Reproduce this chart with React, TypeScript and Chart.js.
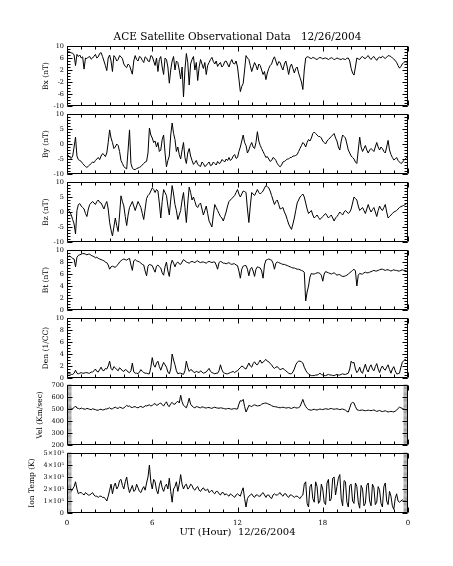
import React, { useEffect, useRef } from 'react';
import { Chart, registerables } from 'chart.js';

Chart.register(...registerables);

// ---------- data (sampled every 0.1 h, 0 .. 24 UT; one row = one hour) ----------
const HOURS_STEP = 0.1;
const X_MIN = 0;
const X_MAX = 24;
const X_MAJOR = 6;

const bx = [
  8.5, 8.2, 8.0, 7.7, 7.6, 7.0, 3.5, 7.2, 6.5, 7.0,
  6.0, 6.4, 2.3, 6.0, 5.8, 6.3, 6.5, 5.6, 6.0, 6.6,
  7.2, 6.0, 6.4, 7.5, 7.8, 6.5, 5.0, 3.5, 1.8, 6.0,
  7.0, 5.0, 1.5, 6.8, 6.2, 5.0, 5.5, 6.8, 6.4, 5.8,
  4.0, 3.2, 2.8, 4.0, 3.5, 2.0, 0.6, 5.0, 6.8, 5.5,
  5.0, 6.5, 6.2, 5.2, 4.5, 6.4, 6.0, 5.0, 4.8, 6.8,
  6.5, 5.0, 3.5, 6.0, 1.5, 5.5, 6.5, 3.0, 0.5, 6.0,
  5.5, 3.0, -2.4, 2.0, 5.0, 6.5, 2.0, 5.0, 4.5, 2.0,
  -1.0, 3.0, -7.0, 2.0, 7.5, 4.5, -3.0, 4.0, 5.5, 6.5,
  2.0, 4.5, -1.5, 3.0, 5.5, 4.0, 2.5, 4.5, 0.5, 3.5,
  4.5, 5.5, 6.2, 4.8, 4.0, 5.0, 3.2, 4.0, 4.5, 3.0,
  3.5, 4.8, 5.0, 4.0, 3.0, 4.5, 5.5, 4.2, 4.0, 5.0,
  3.0, -1.0, -5.2, -3.5, -2.5, 2.0, 6.8, 6.0, 5.5, 3.5,
  1.5, 3.0, 4.5, 3.5, 2.0, 4.0, 3.5, 2.0, 0.5, 1.5,
  -1.2, 1.0, 2.5, 3.5, 4.0, 5.5, 6.4, 5.0, 3.5, 4.8,
  4.5, 3.0, 2.0, 4.0, 5.0, 3.0, 0.5, 3.0, 4.0, 2.5,
  1.0, 2.5, 3.0, 1.0, -0.5, -2.0, -4.5, 2.0, 6.0, 6.4,
  6.3, 6.0, 5.8, 6.2, 6.0, 5.7, 5.5, 5.9, 6.2, 6.0,
  5.7, 5.9, 6.0, 5.8, 5.5, 5.8, 6.1, 5.9, 5.4, 5.7,
  6.0, 5.8, 5.6, 5.5, 5.8, 5.6, 5.5, 5.9, 6.0, 5.0,
  2.5, 1.0, 0.3, 3.0, 6.0, 5.7, 5.5, 6.2, 6.5, 6.0,
  5.8, 6.4, 6.8, 6.0, 5.5, 6.2, 6.5, 5.8, 5.2, 6.0,
  6.3, 6.0, 6.6, 6.2, 5.8, 6.3, 6.8, 6.7, 6.5, 6.0,
  5.6, 5.2, 4.5, 3.5, 2.6, 3.2, 4.0, 4.5, 4.8, 4.4,
  4.2];

const by = [
  -4.2, -3.8, -4.5, -4.8, -4.0, -1.0, 2.3, -4.0, -5.2, -5.5,
  -5.8, -6.5, -7.0, -7.5, -7.8, -7.4, -7.0, -6.5, -6.0, -6.2,
  -5.5, -5.0, -4.5, -5.2, -4.0, -3.2, -3.5, -4.2, -3.0, 0.5,
  4.7, 2.0, 0.5, -1.5, -1.0, 0.0, -0.5, -2.5, -5.5, -6.5,
  -7.5, -8.0, -8.3, -2.0, 4.7, -6.5, -8.0, -8.5, -8.5, -8.2,
  -8.0, -7.8, -7.5, -7.0, -6.5, -6.0, -5.8, -3.0, 5.3, 3.0,
  2.0, 0.5, 1.0, -1.0, 0.5, -2.5, -2.0, 1.5, 3.0, -3.0,
  -7.6, -5.5, -4.0, 3.0, 7.0, 3.5, 1.5, -2.5, -1.0, -3.5,
  -5.0, -2.0, 0.5, -4.5, -6.5, -3.0, -1.5, -4.0, -5.5, -6.8,
  -6.2, -5.5, -6.8, -7.2, -7.5, -6.0, -6.5, -7.5, -7.2, -6.5,
  -6.0, -7.2, -7.0, -6.0, -6.5, -7.0, -5.8, -6.5, -6.3, -5.2,
  -5.5, -6.0, -5.0, -5.5, -4.5, -5.5, -5.0, -4.0, -3.5, -4.8,
  -4.5, -2.5, -1.0, 1.0, 3.0, 0.5, -0.5, -3.0, -2.0, -0.5,
  0.5, -1.0, -1.5, 0.5, 4.1, 1.0, -0.5, -1.5, -2.5, -3.5,
  -4.5, -4.2, -5.0, -5.8, -5.5, -4.5, -4.8, -5.5, -6.5, -7.2,
  -7.6, -7.0, -6.0, -5.8, -5.5, -5.0, -5.0, -4.5, -4.5, -4.0,
  -4.0, -3.8, -3.5, -2.5, -1.5, -0.5, 0.5, 0.0, -1.0, 0.5,
  1.5, 1.0, 2.0, 3.5, 4.0, 3.5, 3.0, 2.5, 2.5, 2.0,
  1.0, 0.5, 0.0, 1.0, 1.5, 2.0, 2.5, 3.0, 3.5, 2.0,
  1.0, -1.0, -2.0, 1.0, 3.0, 2.5, 2.0, 0.0, -2.0, -3.0,
  -4.0, -4.5, -5.0, -6.0, -6.5, -2.0, 2.3, -1.0, -2.5, -1.5,
  -0.5, -2.0, -3.0, -2.0, -1.5, -2.0, -2.5, -1.0, 0.5, -1.0,
  -2.0, -1.0, -1.5, -2.5, -3.0, -1.0, 1.2, -2.0, -3.5, -4.5,
  -5.3, -5.0, -4.5, -5.5, -6.0, -6.5, -6.2, -5.5, -5.0, -4.5,
  -4.0];

const bz = [
  0.8, 0.5, 0.0, -1.0, -2.5, -4.0, -7.3, 0.5, 2.5, 2.8,
  2.0, 1.5, 1.0, -0.5, -1.5, 1.0, 2.5, 3.0, 3.5, 3.0,
  2.5, 3.5, 4.0, 3.2, 3.0, 2.0, 1.0, 2.5, 3.5, 1.0,
  -3.5, -6.0, -8.0, -5.0, -2.0, -4.5, -6.5, -1.0, 5.4, 3.5,
  2.0, -1.5, -4.5, -1.0, 1.5, 2.5, 3.5, 2.0, 0.5, 2.0,
  3.5, 2.5, 1.5, -0.5, -2.5, 1.0, 4.5, 5.5, 6.0, 7.0,
  8.0, 7.5, 6.5, 7.5, 7.0, 3.0, -2.0, 3.5, 7.5, 6.5,
  5.5, 2.0, -1.0, 4.0, 8.8, 6.0, 2.5, 0.5, -2.5, -1.0,
  0.5, 4.0, 6.5, 1.5, -3.5, 3.0, 8.3, 6.5, 4.0, 5.0,
  3.5, 2.0, 1.5, 2.5, 3.0, 1.0, -1.0, 0.5, 2.0, -0.5,
  -3.0, -4.0, -5.0, -1.0, 2.5, 1.5, 0.5, -0.5, -1.5, -2.0,
  -3.0, -1.5, 0.0, 2.0, 3.5, 4.0, 4.5, 5.0, 5.5, 6.5,
  7.5, 6.0, 5.0, 6.0, 7.0, 6.8, 6.5, 1.0, -3.5, 2.0,
  6.5, 6.0, 5.5, 6.5, 7.5, 6.5, 6.0, 6.5, 7.0, 8.0,
  8.8, 8.5, 8.0, 7.0, 5.5, 4.0, 2.5, 3.5, 4.0, 2.5,
  1.0, 1.2, 1.5, 0.0, -1.0, -2.5, -4.0, -5.0, -5.8, -4.0,
  -2.0, 0.5, 3.0, 4.0, 5.0, 5.5, 6.0, 5.0, 3.0, 1.0,
  -0.5, 0.0, 0.5, -1.0, -2.0, -1.5, -1.0, -1.8, -2.5, -2.0,
  -1.5, -1.0, -0.5, -1.2, -2.0, -1.5, -1.0, -2.0, -3.0, -2.0,
  -1.5, -0.8, 0.0, -0.5, -1.0, 0.0, 0.5, 0.0, -0.5, 0.0,
  1.0, 3.0, 5.0, 4.5, 4.0, 2.0, 0.5, 1.0, 1.5, 0.5,
  -0.5, 1.0, 2.5, 1.0, 0.0, 0.8, 1.5, 0.0, -1.5, 0.5,
  2.0, 1.0, 0.5, 1.5, 2.5, 0.0, -2.0, -1.5, -1.0, -0.5,
  0.0, 0.2, 0.5, 1.0, 1.5, 1.8, 2.0, 2.2, 2.5, 2.8,
  3.0];

const bt = [
  8.8, 8.9, 9.0, 8.8, 8.6, 8.5, 7.2, 8.8, 9.1, 9.2,
  9.3, 9.4, 9.4, 9.3, 9.2, 9.3, 9.3, 9.1, 9.0, 8.9,
  8.7, 8.8, 8.6, 8.5, 8.4, 8.3, 8.2, 8.0, 7.9, 7.5,
  6.8, 7.2, 7.3, 7.2, 7.1, 7.4, 7.6, 8.0, 8.2, 8.4,
  8.5, 8.4, 8.3, 8.5, 8.6, 7.5, 6.6, 8.2, 8.4, 8.2,
  8.1, 8.0, 7.8, 7.6, 7.5, 6.5, 5.7, 7.3, 7.6, 7.5,
  7.4, 6.8, 6.3, 7.3, 7.5, 7.2, 7.0, 6.2, 5.8, 7.2,
  8.0, 6.5, 5.6, 7.5, 8.3, 7.8, 7.2, 7.8, 8.0, 7.7,
  7.6, 8.0, 8.4, 8.2, 8.0, 7.9, 7.8, 8.0, 8.1, 8.0,
  7.9, 8.1, 8.2, 8.0, 7.9, 8.0, 8.0, 7.9, 7.8, 8.0,
  8.1, 8.0, 7.9, 8.0, 8.0, 7.5, 6.8, 7.9, 8.1, 8.0,
  7.8, 7.8, 7.7, 7.8, 7.9, 7.7, 7.6, 7.7, 7.7, 7.5,
  7.4, 6.5, 5.3, 6.8, 7.3, 7.4, 7.4, 6.8, 5.7, 6.8,
  7.1, 6.5, 5.6, 6.8, 7.2, 7.1, 7.0, 6.5, 5.3, 7.5,
  8.3, 8.4, 8.5, 8.4, 8.3, 7.8, 6.8, 7.8, 8.0, 7.9,
  7.8, 7.7, 7.6, 7.6, 7.5, 7.4, 7.3, 7.2, 7.1, 7.0,
  7.0, 6.9, 6.8, 6.8, 6.7, 6.6, 6.5, 6.3, 1.5, 3.0,
  4.0, 5.5, 6.1, 6.0, 6.0, 6.1, 6.2, 6.2, 6.1, 5.8,
  4.8, 6.0, 6.4, 6.3, 6.2, 6.1, 6.0, 6.1, 6.2, 6.0,
  5.8, 5.9, 5.9, 5.7, 5.6, 5.6, 5.7, 5.8, 6.0, 6.2,
  6.4, 6.6, 6.8, 6.5, 4.0, 5.8, 6.1, 6.0, 6.0, 6.2,
  6.3, 6.2, 6.2, 6.3, 6.4, 6.5, 6.6, 6.5, 6.5, 6.6,
  6.7, 6.8, 6.8, 6.7, 6.6, 6.7, 6.7, 6.6, 6.5, 6.6,
  6.7, 6.6, 6.6, 6.5, 6.5, 6.6, 6.7, 6.6, 6.6, 6.5,
  6.5];

const den = [
  0.6, 0.7, 0.7, 0.6, 0.6, 0.8, 1.3, 0.8, 0.7, 0.8,
  0.9, 0.8, 0.8, 0.9, 0.9, 0.8, 0.8, 1.0, 1.0, 1.2,
  1.5, 1.1, 1.0, 1.4, 1.8, 1.3, 1.2, 1.6, 1.5, 2.0,
  2.8, 1.6, 1.3, 1.9, 1.7, 1.4, 1.2, 1.7, 1.5, 1.2,
  1.1, 1.4, 1.3, 1.0, 0.9, 1.2, 2.5, 1.0, 0.8, 0.8,
  0.7, 1.0, 1.4, 1.1, 0.9, 0.8, 0.8, 0.7, 0.7, 1.8,
  3.4, 2.2, 1.8, 2.5, 2.8, 1.9, 1.3, 2.0, 2.6, 2.2,
  1.8, 1.0, 0.7, 1.5, 4.0, 3.0, 2.2, 1.2, 0.7, 0.8,
  0.8, 0.7, 0.6, 1.2, 2.8, 1.8, 1.1, 1.4, 1.3, 1.0,
  0.9, 1.1, 1.0, 0.9, 1.2, 1.0, 0.8, 0.9, 1.0, 1.3,
  1.6, 1.1, 0.9, 0.8, 0.7, 0.8, 0.8, 1.2, 2.2, 1.4,
  0.9, 0.8, 0.7, 0.7, 0.8, 0.9, 1.0, 1.1, 0.9, 1.1,
  1.2, 1.5, 1.7, 2.0, 1.9, 1.6, 1.5, 2.0, 2.5, 2.0,
  1.8, 2.4, 2.7, 2.3, 2.2, 2.6, 3.0, 2.5, 2.6, 2.9,
  3.1, 2.8, 2.7, 2.4, 2.2, 1.8, 1.6, 1.8, 1.9, 1.6,
  1.4, 1.5, 1.6, 1.4, 1.2, 1.0, 0.8, 0.7, 0.7, 1.0,
  1.5, 2.2, 2.6, 2.8, 2.8, 2.7, 2.5, 1.8, 1.3, 0.9,
  0.7, 0.5, 0.4, 0.4, 0.4, 0.5, 0.5, 0.6, 0.8, 0.6,
  0.5, 0.4, 0.4, 0.5, 0.6, 0.5, 0.5, 0.4, 0.4, 0.5,
  0.6, 0.5, 0.5, 0.6, 0.7, 0.6, 0.6, 0.7, 0.8, 1.5,
  2.8, 2.5, 2.6, 1.5, 0.9, 1.2, 1.8, 1.0, 0.8, 1.6,
  2.3, 1.4, 1.0, 1.8, 2.2, 1.5, 1.2, 1.9, 2.4, 1.5,
  0.9, 1.6, 2.0, 1.5, 1.3, 1.8, 2.2, 1.4, 0.8, 1.5,
  1.9, 1.2, 0.7, 0.7, 0.8, 1.8, 2.6, 2.9, 3.1, 2.9,
  2.8];

const vel = [
  505, 500, 510, 506, 503, 512, 525, 508, 505, 500,
  508, 503, 500, 498, 505, 502, 498, 494, 502, 498,
  495, 490, 490, 496, 498, 492, 494, 500, 500, 505,
  510, 500, 502, 510, 515, 508, 505, 515, 512, 505,
  508, 520, 530, 522, 525, 515, 512, 518, 520, 512,
  510, 518, 522, 514, 515, 528, 525, 530, 535, 525,
  530, 540, 545, 530, 535, 545, 550, 535, 525, 545,
  560, 530, 520, 545, 555, 540, 540, 555, 565, 550,
  615, 560, 530, 520, 510, 545, 590, 540, 525, 515,
  510, 520, 518, 512, 510, 518, 515, 510, 508, 512,
  512, 508, 505, 512, 515, 510, 508, 506, 510, 508,
  505, 502, 500, 504, 505, 500, 498, 502, 503, 500,
  500, 540, 570, 565, 580, 520, 475, 500, 530, 525,
  520, 530, 535, 530, 525, 528, 530, 540, 545, 548,
  550, 545, 540, 535, 528, 522, 520, 518, 515, 512,
  510, 513, 515, 512, 508, 510, 512, 508, 505, 510,
  515, 510, 508, 512, 520, 550, 580, 545, 520, 505,
  495, 492, 490, 495, 498, 494, 492, 496, 500, 497,
  495, 499, 502, 500, 497, 502, 505, 500, 498, 500,
  502, 498, 495, 498, 500, 495, 490, 480, 475, 510,
  545, 555, 550, 520, 495, 490, 488, 490, 492, 488,
  485, 488, 490, 488, 486, 489, 492, 486, 480, 484,
  488, 482, 478, 482, 485, 480, 475, 478, 480, 478,
  476, 482, 490, 505, 515, 510, 505, 500, 495, 490,
  485];

const ionTemp = [
  1.9e5, 2.1e5, 2.3e5, 1.8e5, 2.0e5, 2.2e5, 2.6e5, 2.0e5, 1.6e5, 1.7e5,
  1.7e5, 1.6e5, 1.5e5, 1.7e5, 1.6e5, 1.5e5, 1.5e5, 1.6e5, 1.7e5, 1.5e5,
  1.4e5, 1.4e5, 1.3e5, 1.4e5, 1.4e5, 1.3e5, 1.3e5, 1.2e5, 1.0e5, 1.4e5,
  1.9e5, 2.4e5, 1.6e5, 2.2e5, 2.5e5, 2.0e5, 2.2e5, 2.7e5, 2.8e5, 2.3e5,
  2.0e5, 2.6e5, 3.0e5, 2.2e5, 1.7e5, 2.0e5, 2.3e5, 1.8e5, 1.9e5, 2.4e5,
  2.1e5, 1.8e5, 1.7e5, 2.0e5, 2.2e5, 1.9e5, 2.5e5, 3.0e5, 4.0e5, 2.6e5,
  2.0e5, 2.8e5, 2.6e5, 1.9e5, 1.6e5, 2.3e5, 2.7e5, 2.1e5, 1.8e5, 2.2e5,
  2.4e5, 2.0e5, 2.9e5, 1.8e5, 0.9e5, 2.0e5, 2.2e5, 2.6e5, 1.8e5, 2.4e5,
  3.2e5, 2.4e5, 2.0e5, 2.3e5, 2.4e5, 2.0e5, 2.1e5, 2.4e5, 2.3e5, 2.0e5,
  1.9e5, 2.1e5, 2.2e5, 1.9e5, 1.8e5, 2.0e5, 2.1e5, 1.9e5, 1.9e5, 2.0e5,
  1.7e5, 1.8e5, 1.9e5, 1.7e5, 1.6e5, 1.8e5, 1.8e5, 1.6e5, 1.5e5, 1.7e5,
  1.7e5, 1.5e5, 1.6e5, 1.5e5, 1.4e5, 1.6e5, 1.5e5, 1.4e5, 1.3e5, 1.5e5,
  1.6e5, 1.5e5, 1.4e5, 1.8e5, 2.1e5, 1.2e5, 0.5e5, 1.2e5, 1.4e5, 1.5e5,
  1.6e5, 1.4e5, 1.3e5, 1.5e5, 1.5e5, 1.4e5, 1.4e5, 1.6e5, 1.7e5, 1.5e5,
  1.3e5, 1.5e5, 1.5e5, 1.3e5, 1.2e5, 1.5e5, 1.6e5, 1.5e5, 1.5e5, 1.6e5,
  1.7e5, 1.5e5, 1.4e5, 1.6e5, 1.6e5, 1.4e5, 1.3e5, 1.5e5, 1.5e5, 1.4e5,
  1.3e5, 1.4e5, 1.4e5, 1.3e5, 1.2e5, 1.4e5, 1.5e5, 2.4e5, 2.6e5, 0.8e5,
  0.5e5, 2.2e5, 2.4e5, 1.2e5, 0.9e5, 2.6e5, 2.2e5, 0.8e5, 1.0e5, 2.4e5,
  2.0e5, 0.9e5, 0.7e5, 2.5e5, 2.8e5, 1.0e5, 1.2e5, 2.9e5, 3.0e5, 1.5e5,
  2.2e5, 2.9e5, 3.2e5, 1.2e5, 0.6e5, 2.7e5, 2.6e5, 0.9e5, 0.5e5, 2.3e5,
  2.4e5, 1.0e5, 0.8e5, 2.5e5, 2.2e5, 0.9e5, 0.4e5, 2.3e5, 2.0e5, 0.6e5,
  0.8e5, 2.3e5, 2.5e5, 1.0e5, 0.6e5, 2.4e5, 2.1e5, 0.7e5, 0.9e5, 2.2e5,
  1.9e5, 0.8e5, 0.5e5, 2.2e5, 2.5e5, 1.0e5, 0.7e5, 1.8e5, 1.4e5, 0.6e5,
  0.3e5, 1.2e5, 1.6e5, 1.0e5, 0.9e5, 1.0e5, 1.1e5, 1.0e5, 1.0e5, 1.1e5,
  1.0e5];

// ---------- texts ----------
const MAIN_TITLE = 'ACE Satellite Observational Data   12/26/2004';
const X_TITLE = 'UT (Hour)  12/26/2004';
const Y_TITLES = ['Bx (nT)', 'By (nT)', 'Bz (nT)', 'Bt (nT)', 'Den (1/CC)', 'Vel (Km/sec)', 'Ion Temp (K)'];

// ---------- layout ----------
const W = 453;
const H = 566;
const PLOT_LEFT = 67;
const PLOT_RIGHT = 408;
const PANEL_TOPS = [46, 114, 182, 250, 318, 385, 453];
const PANEL_HEIGHT = 60;
const Y_TITLE_CENTER = [46.5, 46.5, 46.5, 46.5, 46, 40, 32.5];
const FONT = "'DejaVu Serif', serif";

type PanelDef = {
  data: number[];
  min: number;
  max: number;
  step: number;
  minor: number;
  dense?: boolean;
  fmt?: (v: number) => string;
};

const PANELS: PanelDef[] = [
  { data: bx, min: -10, max: 10, step: 4, minor: 1 },
  { data: by, min: -10, max: 10, step: 5, minor: 1 },
  { data: bz, min: -10, max: 10, step: 5, minor: 1 },
  { data: bt, min: 0, max: 10, step: 2, minor: 0.5 },
  { data: den, min: 0, max: 10, step: 2, minor: 0.5 },
  { data: vel, min: 200, max: 700, step: 100, minor: 10, dense: true },
  {
    data: ionTemp, min: 0, max: 5e5, step: 1e5, minor: 1e4, dense: true,
    fmt: (v: number) => (v === 0 ? '0' : `${Math.round(v / 1e5)}×10⁵`),
  },
];

// draws the IDL-style frame with inward ticks, using the chart's own scales
const frameTicks = {
  id: 'frameTicks',
  afterDatasetsDraw(chart: any, _args: any, opts: any) {
    const { ctx, chartArea } = chart;
    const xs = chart.scales.x;
    const ys = chart.scales.y;
    const L = Math.round(chartArea.left) + 0.5;
    const R = Math.round(chartArea.right) - 0.5;
    const T = Math.round(chartArea.top) + 0.5;
    const B = Math.round(chartArea.bottom) - 0.5;
    ctx.save();
    ctx.lineWidth = 1;
    // y minor ticks (dense ones form a grey band)
    ctx.beginPath();
    ctx.strokeStyle = opts.dense ? '#9a9a9a' : '#000';
    const ny = Math.round((ys.max - ys.min) / opts.yMinor);
    const mlen = opts.dense ? 4 : 3;
    for (let i = 0; i <= ny; i++) {
      const v = ys.min + i * opts.yMinor;
      const py = opts.dense ? ys.getPixelForValue(v) : Math.round(ys.getPixelForValue(v)) + 0.5;
      ctx.moveTo(L, py); ctx.lineTo(L + mlen, py);
      ctx.moveTo(R, py); ctx.lineTo(R - mlen, py);
    }
    ctx.stroke();
    ctx.strokeStyle = '#000';
    ctx.beginPath();
    ctx.rect(L, T, R - L, B - T);
    // x ticks (top and bottom)
    const nx = Math.round((xs.max - xs.min) / opts.xMinor);
    for (let i = 0; i <= nx; i++) {
      const v = xs.min + i * opts.xMinor;
      const px = Math.round(xs.getPixelForValue(v)) + 0.5;
      const major = Math.abs(v / opts.xMajor - Math.round(v / opts.xMajor)) < 1e-6;
      const len = major ? 5 : 3;
      ctx.moveTo(px, B); ctx.lineTo(px, B - len);
      ctx.moveTo(px, T); ctx.lineTo(px, T + len);
    }
    // y major ticks
    ys.ticks.forEach((t: any) => {
      const py = Math.round(ys.getPixelForValue(t.value)) + 0.5;
      ctx.moveTo(L, py); ctx.lineTo(L + 5, py);
      ctx.moveTo(R, py); ctx.lineTo(R - 5, py);
    });
    ctx.stroke();
    ctx.restore();
  },
};

export default function App() {
  const refs = useRef<(HTMLCanvasElement | null)[]>([]);

  useEffect(() => {
    const charts = PANELS.map((p, k) => {
      const canvas = refs.current[k] as HTMLCanvasElement;
      const isFirst = k === 0;
      const isLast = k === PANELS.length - 1;
      const top = PANEL_TOPS[k];
      const bottom = top + PANEL_HEIGHT;
      const yTitleSize = 7.5;
      const padLeft = Y_TITLE_CENTER[k] - (yTitleSize * 1.2) / 2;
      const mainTitleSize = 10.5;
      const padTop = isFirst ? top - mainTitleSize * 1.2 - 2 : top;
      const xAxisHeight = isLast ? 25 : 0;
      const padBottom = H - bottom - xAxisHeight;
      const points = p.data.map((v, i) => ({ x: X_MIN + i * HOURS_STEP, y: v }));

      return new Chart(canvas, {
        type: 'line',
        data: {
          datasets: [{
            data: points,
            borderColor: '#000',
            borderWidth: 1,
            pointRadius: 0,
            fill: false,
            tension: 0,
          }],
        },
        options: {
          responsive: false,
          animation: false,
          devicePixelRatio: 1,
          events: [],
          layout: { padding: { left: padLeft, right: W - PLOT_RIGHT, top: padTop, bottom: padBottom } },
          plugins: {
            legend: { display: false },
            tooltip: { enabled: false },
            title: {
              display: isFirst,
              text: MAIN_TITLE,
              fullSize: false,
              color: '#000',
              font: { family: FONT, size: mainTitleSize, weight: 'normal' },
              padding: { top: 0, bottom: 2 },
            },
            frameTicks: { xMinor: 1, xMajor: X_MAJOR, yMinor: p.minor, dense: !!p.dense },
          } as any,
          scales: {
            x: {
              type: 'linear',
              min: X_MIN,
              max: X_MAX,
              display: isLast,
              afterFit: (s: any) => { s.height = xAxisHeight; },
              grid: { display: false, drawTicks: false },
              border: { display: false },
              ticks: {
                stepSize: X_MAJOR,
                padding: 5.5,
                maxRotation: 0,
                autoSkip: false,
                color: '#000',
                font: { family: FONT, size: 7 },
                callback: (v: any) => (Number(v) === X_MAX ? '0' : String(v)),
              },
              title: {
                display: isLast,
                text: X_TITLE,
                color: '#000',
                font: { family: FONT, size: 10 },
                padding: 0,
              },
            },
            y: {
              type: 'linear',
              min: p.min,
              max: p.max,
              afterFit: (s: any) => { s.width = PLOT_LEFT - padLeft; },
              grid: { display: false, drawTicks: false },
              border: { display: false },
              ticks: {
                stepSize: p.step,
                padding: 3,
                autoSkip: false,
                color: '#000',
                font: { family: FONT, size: 6.5 },
                callback: (v: any) => (p.fmt ? p.fmt(Number(v)) : String(v)),
              },
              title: {
                display: true,
                text: Y_TITLES[k],
                color: '#000',
                font: { family: FONT, size: yTitleSize },
                padding: 0,
              },
            },
          },
        } as any,
        plugins: [frameTicks],
      });
    });
    return () => charts.forEach((c) => c.destroy());
  }, []);

  return (
    <div style={{ position: 'absolute', left: 0, top: 0, width: W, height: H, background: '#fff' }}>
      {PANELS.map((_, k) => (
        <canvas
          key={k}
          ref={(el) => { refs.current[k] = el; }}
          width={W}
          height={H}
          style={{ position: 'absolute', left: 0, top: 0, width: W, height: H }}
        />
      ))}
    </div>
  );
}
